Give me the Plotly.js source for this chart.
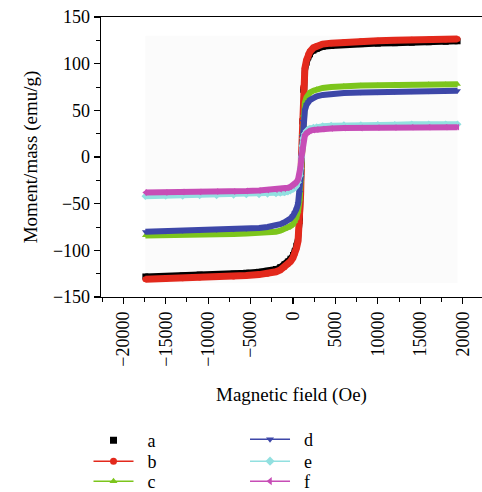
<!DOCTYPE html>
<html>
<head>
<meta charset="utf-8">
<script src="https://cdn.plot.ly/plotly-3.0.1.min.js"></script>
<style>html,body{margin:0;padding:0;background:#fff}#chart{width:482px;height:492px}</style>
</head>
<body>
<div id="chart"></div>
<script>
// Magnetic field (Oe) sample points
const field = [-17400,-15000,-13000,-11000,-9000,-7000,-5500,-4000,-3000,-2000,-1500,-1000,-600,-300,0,200,400,600,800,900,1000,1100,1200,1400,1600,1800,2000,2400,2800,3500,4500,6000,8000,10000,12000,14000,16000,18000,19400];
// Moment/mass (emu/g) per sample
const seriesA = [-128,-127.5,-127,-126,-125.5,-125,-124,-123,-122,-120,-118,-115,-112,-109,-105,-101,-95,-87,-68,-38,0,38,72,92,101,107,110,114,116,118,119,120,121,121.5,122,122.5,123,123.5,124];
const seriesB = [-131,-130.5,-130,-129,-128.5,-128,-127,-126,-125,-123,-121,-118,-115,-112,-108,-104,-98,-90,-70,-40,0,40,75,95,104,110,113,117,119,121,122,123,124,124.5,125,125.5,126,126,126.5];
const seriesC = [-84,-84,-83.5,-83,-83,-82.5,-82,-81.5,-81,-80,-79,-77.5,-76,-74,-72,-69,-65,-58,-45,-25,0,25,45,58,64,67,69,71,72.5,74,75,76,76.5,77,77.5,77.5,78,78,78];
const seriesD = [-80,-79.5,-79,-78.5,-78,-77.5,-77,-76,-75,-73.5,-72,-70,-68,-66,-63,-60,-56,-50,-38,-22,0,22,38,50,56,59,61,63,65,66.5,67.5,68.5,69,69.5,70,70.5,70.5,71,71];
const seriesE = [-42,-41.5,-41.5,-41,-41,-40.5,-40,-40,-39.5,-39,-38.5,-38,-37,-36,-34.5,-33,-31,-27,-20,-12,0,12,20,25,28,29.5,30.5,31.5,32,33,33.5,34,34,34.5,34.5,35,35,35,35];
const seriesF = [-38,-38,-37.5,-37.5,-37,-37,-36.5,-36,-35.5,-35,-34.5,-34,-33,-32,-30.5,-29,-27,-24,-18,-10,0,10,18,23,25.5,27,28,29,29.5,30,30.5,31,31,31.5,31.5,32,32,32,32];
const names = ['a','b','c','d','e','f'];
const values = [seriesA, seriesB, seriesC, seriesD, seriesE, seriesF];
const colors = ['#000000','#e3291c','#7cc51c','#3d47a8','#92e0e0','#c74db6'];
const symbols = ['square','circle','triangle-up','triangle-down','diamond','triangle-left'];
const xTicks = [-20000,-15000,-10000,-5000,0,5000,10000,15000,20000];
const yTicks = [-150,-100,-50,0,50,100,150];

const traces = [];
values.forEach((v,i)=>{
  traces.push({
    x: field, y: v, type:'scatter', mode:'lines+markers', showlegend:false,
    line:{color:colors[i], width: i===1?7:6},
    marker:{color:colors[i], symbol:symbols[i], size:6},
    hoverinfo:'skip'
  });
});
const legendIds = ['legend','legend2','legend3','legend4','legend5','legend6'];
names.forEach((n,i)=>{
  traces.push({
    x:[null], y:[null], type:'scatter', name:'\u00a0\u00a0'+n,
    mode: i===0 ? 'markers' : 'lines+markers',
    line:{color:colors[i], width:1.5},
    marker:{color:colors[i], symbol:symbols[i], size:7},
    legend: legendIds[i]
  });
});

const fnt = {family:'Liberation Serif, Times New Roman, serif', size:18, color:'#000'};
const legendBase = {orientation:'v', font:fnt, bgcolor:'rgba(0,0,0,0)', yanchor:'top', xanchor:'left', tracegroupgap:0, itemwidth:40};
const legPos = [[-0.0328,-0.4465],[-0.0328,-0.5213],[-0.0328,-0.5927],[0.378,-0.4429],[0.378,-0.5213],[0.378,-0.5927]];
const layout = {
  width:482, height:492,
  margin:{l:101, r:0, t:17, b:195, autoexpand:false},
  paper_bgcolor:'#fff', plot_bgcolor:'#fff',
  font: fnt,
  xaxis:{
    range:[-22630,22280], tickvals:xTicks, ticktext:xTicks.map(t=>t<0?'\u2212'+Math.abs(t):String(t)),
    tickangle:-90, ticks:'outside', ticklen:6, tickwidth:1.2, tickcolor:'#000', automargin:false,
    showline:true, linecolor:'#000', linewidth:1.3, mirror:true, showgrid:false, zeroline:false,
    minor:{ticks:'outside', dtick:2500, tick0:0, ticklen:4, tickcolor:'#000', tickwidth:1, showgrid:false},
    title:{text:'Magnetic field (Oe)', font:{family:fnt.family, size:19, color:'#000'}, standoff:22},
    tickfont:fnt
  },
  yaxis:{
    range:[-150,150], tickvals:yTicks, ticktext:yTicks.map(t=>t<0?'\u2212'+Math.abs(t):String(t)),
    ticks:'outside', ticklen:6, tickwidth:1.2, tickcolor:'#000', automargin:false,
    showline:true, linecolor:'#000', linewidth:1.3, showgrid:false, zeroline:false,
    minor:{ticks:'outside', dtick:25, tick0:0, ticklen:4, tickcolor:'#000', tickwidth:1, showgrid:false},
    title:{text:'Moment/mass (emu/g)', font:{family:fnt.family, size:19, color:'#000'}, standoff:10},
    tickfont:fnt
  },
  shapes:[{type:'rect', xref:'x', yref:'y', layer:'below', x0:Math.min(...field), x1:Math.max(...field), y0:-135, y1:130, fillcolor:'#fbfbfb', line:{width:0}}],
  showlegend:true
};
legendIds.forEach((id,i)=>{ layout[id] = Object.assign({}, legendBase, {x:legPos[i][0], y:legPos[i][1]}); });
Plotly.newPlot('chart', traces, layout, {displayModeBar:false, staticPlot:true});
</script>
</body>
</html>
